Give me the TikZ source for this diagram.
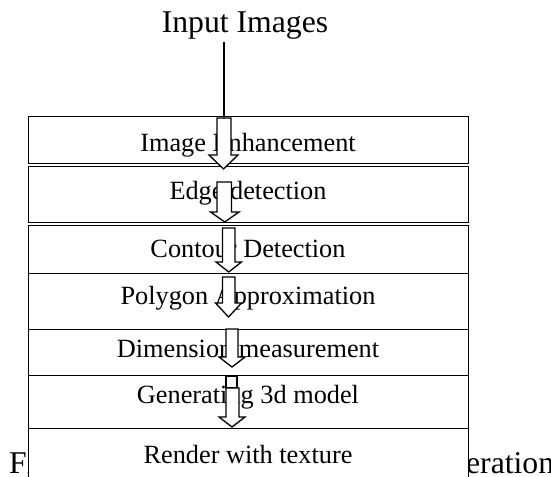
\documentclass[tikz,border=0pt]{standalone}
\usepackage{fontspec}
\setmainfont{Liberation Serif}

% hollow block arrow pointing down:
% name, shaft left, shaft right, top, neck, head left, head right, tip
\newcommand\blockdown[8]{%
  \coordinate (#1) at ({(#2+#3)/2},#4);
  \draw[flowarrow] (#2,#4) -- (#3,#4) -- (#3,#5) -- (#7,#5)
    -- ({(#6+#7)/2},#8) -- (#6,#5) -- (#2,#5) -- cycle;}

\begin{document}
\begin{tikzpicture}[x=1bp,y=-1bp,
  stage/.style={draw=black, line width=1.1bp, fill=white, inner sep=0pt,
    minimum width=440bp, anchor=north west},
  stagetext/.style={anchor=base, inner sep=0pt,
    font=\fontsize{26.3bp}{30bp}\selectfont},
  headtext/.style={anchor=base, inner sep=0pt,
    font=\fontsize{31.7bp}{36bp}\selectfont},
  flowarrow/.style={draw=black, line width=1.3bp, fill=white, line join=miter},
  feed/.style={draw=black, line width=1.5bp},
]
\clip (0,0) rectangle (551,477);
\fill[white] (0,0) rectangle (551,477);

% caption line, partly hidden behind the stage boxes
\node[headtext, anchor=base west] (caption) at (9,473)
  {Fig. 2: Flowchart for 3D model generation};

% title
\node[headtext] (input) at (245,33) {Input Images};

% stage boxes
\node[stage, minimum height=47bp] (b1) at (28,116) {};
\node[stage, minimum height=56bp] (b2) at (28,166) {};
\node[stage, minimum height=48bp] (b3) at (28,225) {};
\node[stage, minimum height=56bp] (b4) at (28,273) {};
\node[stage, minimum height=46bp] (b5) at (28,329) {};
\node[stage, minimum height=53bp] (b6) at (28,375) {};
\node[stage, minimum height=70bp] (b7) at (28,428) {};

% stage labels
\node[stagetext] (t1) at (248,152) {Image Enhancement};
\node[stagetext] (t2) at (248,200) {Edge detection};
\node[stagetext] (t3) at (248,257) {Contour Detection};
\node[stagetext] (t4) at (248,304) {Polygon Approximation};
\node[stagetext] (t5) at (248,357) {Dimension measurement};
\node[stagetext] (t6) at (248,403) {Generating 3d model};
\node[stagetext] (t7) at (248,463) {Render with texture};

% block arrows between the stages
\blockdown{a1}{217}{231}{118}{155}{209}{238}{169}
\blockdown{a2}{217}{231.5}{182}{212}{210.5}{239}{222}
\blockdown{a3}{222.5}{235}{228}{262}{216}{241.5}{272}
\blockdown{a4}{222.5}{235}{277}{303}{215.5}{241.5}{317}
\blockdown{a5}{226}{238}{329}{357}{219}{245}{367}
\draw[flowarrow] (226,376) rectangle (237,388);
\blockdown{a6}{226}{239}{388}{417}{219}{245}{427}

% vertical feed line from the title down into the first arrow
\coordinate (feedtop) at ([yshift=-2bp]a1 |- input.south);
\draw[feed] (feedtop) -- (a1);
\end{tikzpicture}
\end{document}
